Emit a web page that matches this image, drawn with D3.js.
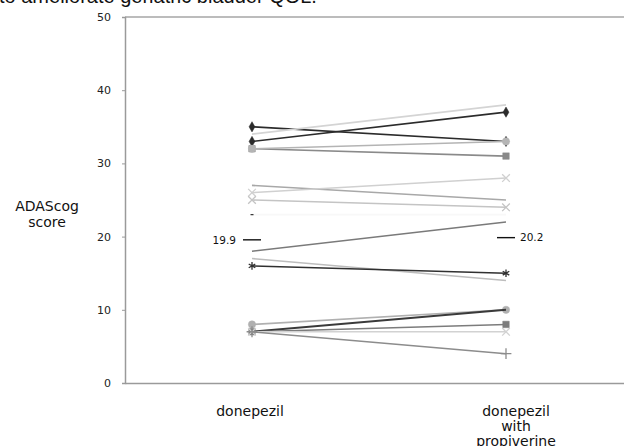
<!DOCTYPE html>
<html>
<head>
<meta charset="utf-8">
<script src="https://cdn.jsdelivr.net/npm/d3@7"></script>
<style>
    body { margin: 0; background: #fff; }
    svg { display: block; }
</style>
</head>
<body>
<div id="chart"></div>
<script>

const categories = ["donepezil", "donepezil with propiverine"];
const beforeScores = [35, 33, 34, 32, 32, 27, 26, 25, 23, 18, 17, 16, 8, 7, 7, 7, 7];
const afterScores  = [33, 37, 38, 31, 33, 25, 28, 24, 23, 22, 14, 15, 10, 10, 8, 7, 4];
const lineColors   = ["#2b2b2b", "#2b2b2b", "#d4d4d4", "#8a8a8a", "#b4b4b4", "#a8a8a8", "#d0d0d0", "#c4c4c4",
                      "#f8f8f8", "#7a7a7a", "#bdbdbd", "#303030", "#b0b0b0", "#3a3a3a", "#7c7c7c", "#d2d2d2", "#8c8c8c"];
const markerTypes  = ["diamond", "diamond", "none", "square", "circle", "none", "times", "times",
                      "none", "none", "none", "asterisk", "circle", "none", "square", "times", "plus"];
const meanScores = [19.9, 20.2];
const yTicks = [0, 10, 20, 30, 40, 50];

function drawChart() {

    const dimesions = {
        width: 624,
        height: 446,
        margin: {
            top: 17,
            bottom: 63,
            left: 125,
            right: -9
        }
    }
    dimesions.containerWidth = dimesions.width - (dimesions.margin.left + dimesions.margin.right);
    dimesions.containerHeight = dimesions.height - (dimesions.margin.top + dimesions.margin.bottom);

    const svg = d3.select("#chart")
        .append("svg")
        .attr("width", dimesions.width)
        .attr("height", dimesions.height)
        .style("font-family", "'DejaVu Sans', Verdana, sans-serif");

    // caption from the page above, cut off by the crop
    svg.append("text")
        .attr("x", -1)
        .attr("y", 3)
        .style("font-family", "'Liberation Sans', Arial, sans-serif")
        .style("font-size", "20px")
        .attr("fill", "#111")
        .text("to ameliorate geriatric bladder QOL.");

    const container = svg.append("g")
        .attr("transform", `translate(${dimesions.margin.left}, ${dimesions.margin.top})`);

    const xScale = d3.scalePoint()
        .domain(categories)
        .range([0, dimesions.containerWidth])
        .padding(0.5);

    const yScale = d3.scaleLinear()
        .domain([0, 50])
        .range([dimesions.containerHeight, 0]);

    // frame
    container.append("line")
        .attr("x1", 0).attr("x2", dimesions.containerWidth)
        .attr("y1", 0).attr("y2", 0)
        .attr("stroke", "#a6a6a6").attr("stroke-width", 1.5);

    const yAxis = d3.axisLeft(yScale)
        .tickValues(yTicks)
        .tickSize(3)
        .tickPadding(11);

    const yAxisGroup = container.append("g")
        .call(yAxis);
    yAxisGroup.select(".domain").attr("stroke", "#9a9a9a").attr("stroke-width", 1.5);
    yAxisGroup.selectAll(".tick line").attr("stroke", "#9a9a9a");
    yAxisGroup.selectAll(".tick text")
        .attr("fill", "#222")
        .style("font-size", "11px")
        .style("font-family", "'DejaVu Sans', Verdana, sans-serif");

    const xAxisGroup = container.append("g")
        .attr("transform", `translate(0, ${dimesions.containerHeight})`)
        .call(d3.axisBottom(xScale).tickSize(0).tickFormat(""));
    xAxisGroup.select(".domain").attr("stroke", "#9a9a9a").attr("stroke-width", 1.5);

    // category labels (wrapped)
    const catLabels = container.append("g")
        .attr("transform", `translate(0, ${dimesions.containerHeight})`);
    const wrapped = [["donepezil"], ["donepezil", "with", "propiverine"]];
    categories.forEach((c, i) => {
        const t = catLabels.append("text")
            .attr("x", xScale(c) + (i === 1 ? 10 : -2))
            .attr("y", 33)
            .attr("text-anchor", "middle")
            .attr("fill", "#111")
            .style("font-size", "14px");
        wrapped[i].forEach((w, j) => {
            t.append("tspan")
                .attr("x", xScale(c) + (i === 1 ? 10 : -2))
                .attr("dy", j === 0 ? 0 : 15)
                .text(w);
        });
    });

    // y-axis title
    const yTitle = svg.append("text")
        .attr("text-anchor", "middle")
        .attr("fill", "#111")
        .style("font-size", "14px");
    yTitle.append("tspan").attr("x", 47).attr("y", 211).text("ADAScog");
    yTitle.append("tspan").attr("x", 47).attr("y", 227).text("score");

    const seriesData = beforeScores.map((b, i) => ({
        values: [b, afterScores[i]],
        color: lineColors[i],
        marker: markerTypes[i]
    }));

    const line = d3.line()
        .x((d, i) => xScale(categories[i]))
        .y(d => yScale(d));

    const symbolMap = {
        diamond: d3.symbolDiamond,
        square: d3.symbolSquare,
        circle: d3.symbolCircle,
        times: d3.symbolTimes,
        plus: d3.symbolPlus,
        asterisk: d3.symbolAsterisk
    };
    const strokeSymbols = ["times", "plus", "asterisk"];

    const groups = container.selectAll(".series")
        .data(seriesData)
        .join("g")
        .attr("class", "series");

    groups.append("path")
        .attr("d", d => line(d.values))
        .attr("fill", "none")
        .attr("stroke", d => d.color)
        .attr("stroke-width", (d, i) => i === 13 ? 2 : 1.6);

    groups.each(function(d) {
        if (d.marker === "none") return;
        const isStroke = strokeSymbols.includes(d.marker);
        d3.select(this).selectAll(".mark")
            .data(d.values)
            .join("path")
            .attr("class", "mark")
            .attr("transform", (v, i) => `translate(${xScale(categories[i])}, ${yScale(v)})`)
            .attr("d", d3.symbol().type(symbolMap[d.marker]).size(isStroke ? 40 : (d.marker === "diamond" ? 30 : 42)))
            .attr("fill", isStroke ? "none" : d.color)
            .attr("stroke", d.color)
            .attr("stroke-width", isStroke ? 1.3 : 0.5);
    });

    // small dash marker at 23 on the left
    container.append("line")
        .datum(beforeScores[8])
        .attr("x1", xScale(categories[0]) - 1.5)
        .attr("x2", xScale(categories[0]) + 1.5)
        .attr("y1", d => yScale(d))
        .attr("y2", d => yScale(d))
        .attr("stroke", "#333")
        .attr("stroke-width", 1.2);

    // mean markers
    const meanGroup = container.append("g");
    meanScores.forEach((m, i) => {
        const cx = xScale(categories[i]);
        meanGroup.append("line")
            .attr("x1", cx - 9).attr("x2", cx + 9)
            .attr("y1", yScale(m) + 2.5).attr("y2", yScale(m) + 2.5)
            .attr("stroke", "#111").attr("stroke-width", 1.4);
        meanGroup.append("text")
            .attr("x", i === 0 ? cx - 16 : cx + 14)
            .attr("y", yScale(m) + 2.5)
            .attr("dy", "0.35em")
            .attr("text-anchor", i === 0 ? "end" : "start")
            .attr("fill", "#111")
            .style("font-size", "10.5px")
            .text(m.toFixed(1));
    });
}

drawChart();
</script>
</body>
</html>
